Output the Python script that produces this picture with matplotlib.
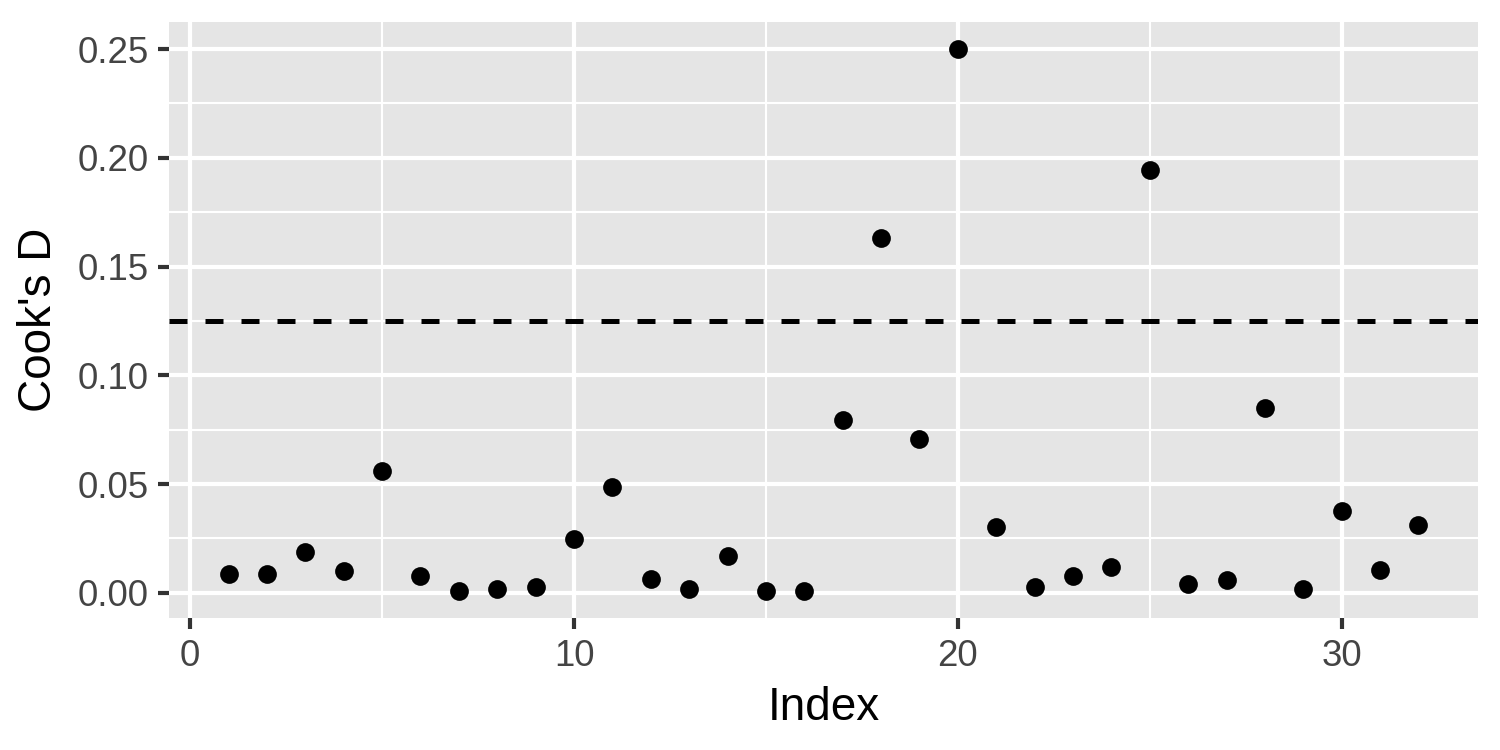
import matplotlib
matplotlib.use("Agg")
import matplotlib.pyplot as plt
from matplotlib.ticker import MultipleLocator, FuncFormatter

index = list(range(1, 33))
cooks_d = [0.0088, 0.0087, 0.0189, 0.0101, 0.0562, 0.0078, 0.0009, 0.0018,
           0.0028, 0.0249, 0.0488, 0.0064, 0.0018, 0.0170, 0.0009, 0.0009,
           0.0797, 0.1630, 0.0709, 0.2500, 0.0304, 0.0028, 0.0078, 0.0120,
           0.1943, 0.0041, 0.0060, 0.0852, 0.0018, 0.0378, 0.0106, 0.0313]
threshold = 4 / 32
x_label = "Index"
y_label = "Cook's D"

plt.rcParams['font.family'] = ['Liberation Sans', 'DejaVu Sans']

fig = plt.figure(figsize=(5, 2.5), dpi=300)
ax = fig.add_axes([0.1127, 0.176, 0.9853 - 0.1127, 0.9707 - 0.176])
ax.set_facecolor('#E5E5E5')
for s in ax.spines.values():
    s.set_visible(False)

xr = max(index) - min(index)
ax.set_xlim(min(index) - 0.05 * xr, max(index) + 0.05 * xr)
yr = max(cooks_d) - min(cooks_d)
ax.set_ylim(min(cooks_d) - 0.05 * yr, max(cooks_d) + 0.05 * yr)

ax.xaxis.set_major_locator(MultipleLocator(10))
ax.xaxis.set_minor_locator(MultipleLocator(5))
ax.yaxis.set_major_locator(MultipleLocator(0.05))
ax.yaxis.set_minor_locator(MultipleLocator(0.025))
ax.yaxis.set_major_formatter(FuncFormatter(lambda v, p: f"{v:.2f}"))

ax.grid(which='major', color='white', linewidth=1.0)
ax.grid(which='minor', color='white', linewidth=0.5)
ax.set_axisbelow(True)

ax.tick_params(which='major', length=2.75, width=1.0, color='#333333',
               labelsize=8.8, labelcolor='#444444', pad=2.2)
ax.tick_params(which='minor', length=0)

ax.axhline(threshold, color='black', linewidth=1.2, dashes=(3.6, 3.6), zorder=2)
ax.plot(index, cooks_d, 'o', color='black', markersize=4.5, markeredgewidth=0, zorder=3)

ax.set_xlabel(x_label, fontsize=11, color='black', labelpad=3)
ax.set_ylabel(y_label, fontsize=11, color='black', labelpad=4)

fig.savefig("out.png", dpi=300)
